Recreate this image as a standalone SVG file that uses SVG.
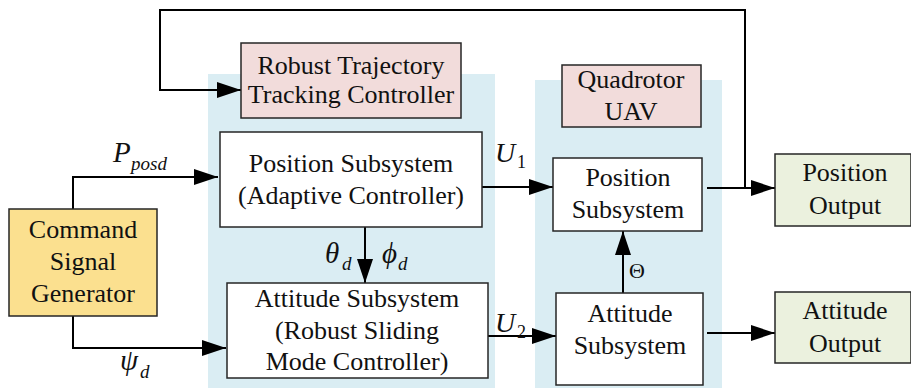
<svg xmlns="http://www.w3.org/2000/svg" width="911" height="388" viewBox="0 0 911 388">
<style>
.box{stroke:#262626;stroke-width:1.5}
.t{font-family:'Liberation Serif','Times New Roman',serif;font-size:26px;fill:#111;text-anchor:middle}
.m{font-family:'Liberation Serif','Times New Roman',serif;font-style:italic;fill:#111}
.s{font-family:'Liberation Serif','Times New Roman',serif;fill:#111}
.ln{fill:none;stroke:#000;stroke-width:2}
</style>
<defs>
<marker id="ah" markerUnits="userSpaceOnUse" markerWidth="24" markerHeight="16" refX="24" refY="8" orient="auto">
<path d="M0,0 L24,8 L0,16 z" fill="#000"/>
</marker>
</defs>
<rect x="208" y="74" width="287" height="314" fill="#daedf3"/>
<rect x="535" y="80" width="187" height="308" fill="#daedf3"/>
<g id="connectors">
<path class="ln" d="M73,209 V177 H218" marker-end="url(#ah)"/>
<path class="ln" d="M73,316 V348 H226" marker-end="url(#ah)"/>
<path class="ln" d="M745,188 V10 H160 V90 H241" marker-end="url(#ah)"/>
<path class="ln" d="M365,227 V283" marker-end="url(#ah)"/>
<path class="ln" d="M482,187 H553" marker-end="url(#ah)"/>
<path class="ln" d="M488,336 H556" marker-end="url(#ah)"/>
<path class="ln" d="M623,293 V231" marker-end="url(#ah)"/>
<path class="ln" d="M707,188 H775" marker-end="url(#ah)"/>
<path class="ln" d="M707,333 H775" marker-end="url(#ah)"/>
<text class="m" x="113" y="162" font-size="29">P</text>
<text class="m" x="131" y="170" font-size="19">posd</text>
<text class="m" x="120" y="370" font-size="29">ψ</text>
<text class="m" x="140" y="378" font-size="19">d</text>
<text class="m" x="325" y="263" font-size="29">θ</text>
<text class="m" x="342" y="270" font-size="19">d</text>
<text class="m" x="382" y="263" font-size="29">ϕ</text>
<text class="m" x="398" y="270" font-size="19">d</text>
<text class="m" x="495" y="162" font-size="28">U</text>
<text class="s" x="517" y="168" font-size="18">1</text>
<text class="m" x="495" y="332" font-size="28">U</text>
<text class="s" x="517" y="338" font-size="18">2</text>
<text class="s" x="637" y="278" font-size="22" text-anchor="middle">Θ</text>
</g>
<g id="command">
<rect class="box" x="9" y="209" width="148" height="107" fill="#fbe08f"/>
<text class="t" x="83" y="238">Command</text>
<text class="t" x="83" y="270">Signal</text>
<text class="t" x="83" y="302">Generator</text>
</g>
<g id="robust-trajectory">
<rect class="box" x="241" y="43" width="220" height="75" fill="#f2dcdb"/>
<text class="t" x="351" y="74" font-size="24">Robust Trajectory</text>
<text class="t" x="351" y="103" font-size="24">Tracking Controller</text>
</g>
<g id="position-controller">
<rect class="box" x="220" y="132" width="262" height="95" fill="#fff"/>
<text class="t" x="351" y="172">Position Subsystem</text>
<text class="t" x="351" y="204">(Adaptive Controller)</text>
</g>
<g id="attitude-controller">
<rect class="box" x="227" y="283" width="261" height="95" fill="#fff"/>
<text class="t" x="357" y="307">Attitude Subsystem</text>
<text class="t" x="357" y="339">(Robust Sliding</text>
<text class="t" x="357" y="370">Mode Controller)</text>
</g>
<g id="quadrotor">
<rect class="box" x="562" y="65" width="139" height="62" fill="#f2dcdb"/>
<text class="t" x="631" y="88">Quadrotor</text>
<text class="t" x="631" y="120">UAV</text>
</g>
<g id="position-subsystem">
<rect class="box" x="553" y="158" width="149" height="73" fill="#fff"/>
<text class="t" x="628" y="186">Position</text>
<text class="t" x="628" y="218">Subsystem</text>
</g>
<g id="attitude-subsystem">
<rect class="box" x="556" y="293" width="147" height="92" fill="#fff"/>
<text class="t" x="630" y="322">Attitude</text>
<text class="t" x="630" y="354">Subsystem</text>
</g>
<g id="position-output">
<rect class="box" x="775" y="154" width="136" height="72" fill="#ebf1de"/>
<text class="t" x="845" y="181">Position</text>
<text class="t" x="845" y="214">Output</text>
</g>
<g id="attitude-output">
<rect class="box" x="775" y="292" width="136" height="71" fill="#ebf1de"/>
<text class="t" x="845" y="319">Attitude</text>
<text class="t" x="845" y="352">Output</text>
</g>
</svg>
